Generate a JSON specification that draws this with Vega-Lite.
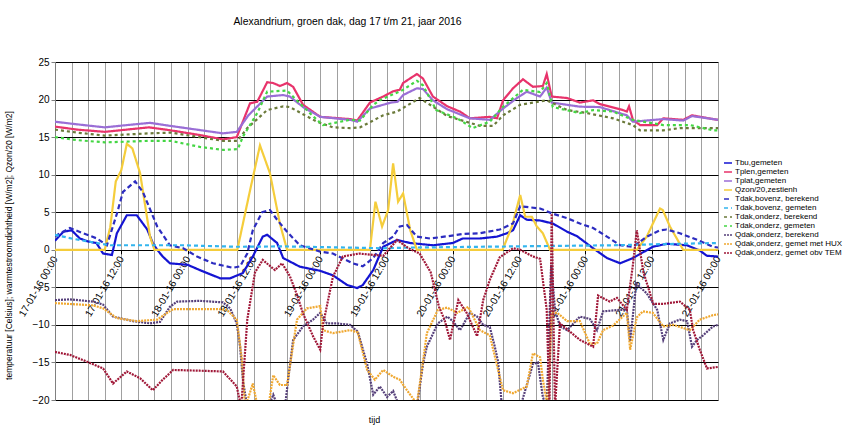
{
"$schema": "https://vega.github.io/schema/vega-lite/v6.json",
"width": 663, "height": 338,
"autosize": {"type": "none"},
"padding": {"left": 55, "top": 62, "right": 136, "bottom": 39},
"config": {"font": "Liberation Sans", "view": {"stroke": null}},
"title": {"text": "Alexandrium, groen dak, dag 17 t/m 21, jaar 2016", "fontSize": 10.4, "fontWeight": "normal", "color": "black", "anchor": "middle", "frame": "group", "baseline": "middle", "offset": 25, "dx": -39},
"data": {"values": [
{"s":"Tbu,gemeten","h":0,"v":1.2},{"s":"Tbu,gemeten","h":1.5,"v":2.4},{"s":"Tbu,gemeten","h":3,"v":2.6},{"s":"Tbu,gemeten","h":4.5,"v":1.5},{"s":"Tbu,gemeten","h":6,"v":1.1},{"s":"Tbu,gemeten","h":7.5,"v":0.9},{"s":"Tbu,gemeten","h":8.7,"v":-0.5},{"s":"Tbu,gemeten","h":10.3,"v":-0.7},{"s":"Tbu,gemeten","h":11.2,"v":2.2},{"s":"Tbu,gemeten","h":13,"v":4.6},{"s":"Tbu,gemeten","h":14.8,"v":4.6},{"s":"Tbu,gemeten","h":16.7,"v":2.7},{"s":"Tbu,gemeten","h":17.7,"v":0.9},{"s":"Tbu,gemeten","h":18.5,"v":0},{"s":"Tbu,gemeten","h":19.5,"v":-0.9},{"s":"Tbu,gemeten","h":20.8,"v":-1.8},{"s":"Tbu,gemeten","h":24,"v":-2.0},{"s":"Tbu,gemeten","h":26.2,"v":-2.7},{"s":"Tbu,gemeten","h":29.9,"v":-3.8},{"s":"Tbu,gemeten","h":31.7,"v":-3.8},{"s":"Tbu,gemeten","h":34,"v":-3.1},{"s":"Tbu,gemeten","h":35.8,"v":-0.9},{"s":"Tbu,gemeten","h":37.6,"v":1.75},{"s":"Tbu,gemeten","h":38.4,"v":2.0},{"s":"Tbu,gemeten","h":40.2,"v":0.9},{"s":"Tbu,gemeten","h":41.3,"v":-1.1},{"s":"Tbu,gemeten","h":44.3,"v":-2.25},{"s":"Tbu,gemeten","h":48,"v":-2.8},{"s":"Tbu,gemeten","h":50.3,"v":-3.4},{"s":"Tbu,gemeten","h":52.9,"v":-4.7},{"s":"Tbu,gemeten","h":54.7,"v":-5.1},{"s":"Tbu,gemeten","h":55.7,"v":-4.7},{"s":"Tbu,gemeten","h":57.6,"v":-2.7},{"s":"Tbu,gemeten","h":59.4,"v":0.4},{"s":"Tbu,gemeten","h":61.9,"v":1.3},{"s":"Tbu,gemeten","h":64.3,"v":0.9},{"s":"Tbu,gemeten","h":68.4,"v":0.6},{"s":"Tbu,gemeten","h":72,"v":0.9},{"s":"Tbu,gemeten","h":73.8,"v":1.5},{"s":"Tbu,gemeten","h":76.9,"v":1.5},{"s":"Tbu,gemeten","h":80,"v":1.75},{"s":"Tbu,gemeten","h":81.8,"v":2.2},{"s":"Tbu,gemeten","h":82.9,"v":2.6},{"s":"Tbu,gemeten","h":84.2,"v":4.6},{"s":"Tbu,gemeten","h":85.4,"v":4.0},{"s":"Tbu,gemeten","h":87.8,"v":3.9},{"s":"Tbu,gemeten","h":90.1,"v":3.5},{"s":"Tbu,gemeten","h":92.7,"v":2.4},{"s":"Tbu,gemeten","h":94.5,"v":1.8},{"s":"Tbu,gemeten","h":97.4,"v":0.2},{"s":"Tbu,gemeten","h":99.9,"v":-1.1},{"s":"Tbu,gemeten","h":102.3,"v":-1.8},{"s":"Tbu,gemeten","h":104.6,"v":-1.1},{"s":"Tbu,gemeten","h":108.2,"v":0.4},{"s":"Tbu,gemeten","h":110.7,"v":0.8},{"s":"Tbu,gemeten","h":114.4,"v":0.6},{"s":"Tbu,gemeten","h":116.7,"v":-0.1},{"s":"Tbu,gemeten","h":118,"v":-0.8},{"s":"Tbu,gemeten","h":120,"v":-0.9},

{"s":"Tplen,gemeten","h":0,"v":16.4},{"s":"Tplen,gemeten","h":4,"v":16.0},{"s":"Tplen,gemeten","h":9,"v":15.7},{"s":"Tplen,gemeten","h":13,"v":16.0},{"s":"Tplen,gemeten","h":17,"v":16.3},{"s":"Tplen,gemeten","h":21,"v":15.9},{"s":"Tplen,gemeten","h":26,"v":15.3},{"s":"Tplen,gemeten","h":30.4,"v":14.7},{"s":"Tplen,gemeten","h":32.9,"v":15.0},{"s":"Tplen,gemeten","h":35.3,"v":19.5},{"s":"Tplen,gemeten","h":36.6,"v":19.7},{"s":"Tplen,gemeten","h":38.4,"v":22.3},{"s":"Tplen,gemeten","h":39.5,"v":22.2},{"s":"Tplen,gemeten","h":40.7,"v":21.8},{"s":"Tplen,gemeten","h":42,"v":22.2},{"s":"Tplen,gemeten","h":43.1,"v":21.7},{"s":"Tplen,gemeten","h":44.9,"v":19.3},{"s":"Tplen,gemeten","h":48,"v":17.7},{"s":"Tplen,gemeten","h":53.4,"v":17.4},{"s":"Tplen,gemeten","h":54.7,"v":17.2},{"s":"Tplen,gemeten","h":57,"v":19.6},{"s":"Tplen,gemeten","h":59.4,"v":20.4},{"s":"Tplen,gemeten","h":61.2,"v":21.1},{"s":"Tplen,gemeten","h":62.4,"v":21.3},{"s":"Tplen,gemeten","h":63,"v":22.2},{"s":"Tplen,gemeten","h":65.5,"v":23.4},{"s":"Tplen,gemeten","h":66.6,"v":22.8},{"s":"Tplen,gemeten","h":68.4,"v":20.4},{"s":"Tplen,gemeten","h":71,"v":19.1},{"s":"Tplen,gemeten","h":73.3,"v":18.4},{"s":"Tplen,gemeten","h":75.1,"v":17.5},{"s":"Tplen,gemeten","h":78.7,"v":17.7},{"s":"Tplen,gemeten","h":80,"v":17.5},{"s":"Tplen,gemeten","h":81.1,"v":19.9},{"s":"Tplen,gemeten","h":82.9,"v":21.5},{"s":"Tplen,gemeten","h":84.7,"v":22.7},{"s":"Tplen,gemeten","h":86.5,"v":21.7},{"s":"Tplen,gemeten","h":88.3,"v":21.8},{"s":"Tplen,gemeten","h":89,"v":23.4},{"s":"Tplen,gemeten","h":89.9,"v":20.4},{"s":"Tplen,gemeten","h":92.7,"v":20.2},{"s":"Tplen,gemeten","h":95,"v":19.6},{"s":"Tplen,gemeten","h":97.4,"v":19.9},{"s":"Tplen,gemeten","h":98.6,"v":19.4},{"s":"Tplen,gemeten","h":102.8,"v":18.6},{"s":"Tplen,gemeten","h":103.5,"v":18.4},{"s":"Tplen,gemeten","h":103.9,"v":19.1},{"s":"Tplen,gemeten","h":104.6,"v":17.3},{"s":"Tplen,gemeten","h":105.9,"v":16.6},{"s":"Tplen,gemeten","h":109,"v":16.6},{"s":"Tplen,gemeten","h":110.1,"v":17.5},{"s":"Tplen,gemeten","h":113.7,"v":17.3},{"s":"Tplen,gemeten","h":115.3,"v":17.9},{"s":"Tplen,gemeten","h":119.1,"v":17.4},{"s":"Tplen,gemeten","h":120,"v":17.3},

{"s":"Tplat,gemeten","h":0,"v":17.05},{"s":"Tplat,gemeten","h":4,"v":16.7},{"s":"Tplat,gemeten","h":9,"v":16.3},{"s":"Tplat,gemeten","h":13,"v":16.6},{"s":"Tplat,gemeten","h":17.2,"v":16.9},{"s":"Tplat,gemeten","h":20.8,"v":16.5},{"s":"Tplat,gemeten","h":30.4,"v":15.5},{"s":"Tplat,gemeten","h":32.9,"v":15.7},{"s":"Tplat,gemeten","h":35,"v":17.9},{"s":"Tplat,gemeten","h":38.4,"v":20.4},{"s":"Tplat,gemeten","h":41.3,"v":20.6},{"s":"Tplat,gemeten","h":42.5,"v":20.4},{"s":"Tplat,gemeten","h":44.9,"v":19.0},{"s":"Tplat,gemeten","h":48,"v":17.7},{"s":"Tplat,gemeten","h":53.4,"v":17.3},{"s":"Tplat,gemeten","h":54.7,"v":17.05},{"s":"Tplat,gemeten","h":57,"v":18.8},{"s":"Tplat,gemeten","h":60.8,"v":19.6},{"s":"Tplat,gemeten","h":62,"v":19.7},{"s":"Tplat,gemeten","h":63,"v":20.6},{"s":"Tplat,gemeten","h":65.5,"v":21.5},{"s":"Tplat,gemeten","h":66.6,"v":21.4},{"s":"Tplat,gemeten","h":68.4,"v":19.9},{"s":"Tplat,gemeten","h":71,"v":18.7},{"s":"Tplat,gemeten","h":75.1,"v":17.5},{"s":"Tplat,gemeten","h":78.7,"v":17.3},{"s":"Tplat,gemeten","h":81.1,"v":18.8},{"s":"Tplat,gemeten","h":83.6,"v":20.2},{"s":"Tplat,gemeten","h":85.4,"v":21.05},{"s":"Tplat,gemeten","h":87.8,"v":20.4},{"s":"Tplat,gemeten","h":89,"v":21.6},{"s":"Tplat,gemeten","h":89.9,"v":19.6},{"s":"Tplat,gemeten","h":95,"v":19.05},{"s":"Tplat,gemeten","h":98.6,"v":19.0},{"s":"Tplat,gemeten","h":103.5,"v":17.9},{"s":"Tplat,gemeten","h":104.6,"v":17.05},{"s":"Tplat,gemeten","h":110.1,"v":17.4},{"s":"Tplat,gemeten","h":113.7,"v":17.2},{"s":"Tplat,gemeten","h":115.3,"v":17.8},{"s":"Tplat,gemeten","h":119.1,"v":17.4},{"s":"Tplat,gemeten","h":120,"v":17.3},

{"s":"Qzon/20,zestienh","h":0,"v":0},{"s":"Qzon/20,zestienh","h":9,"v":0},{"s":"Qzon/20,zestienh","h":10,"v":3},{"s":"Qzon/20,zestienh","h":11,"v":9.1},{"s":"Qzon/20,zestienh","h":12,"v":10.6},{"s":"Qzon/20,zestienh","h":13,"v":14.1},{"s":"Qzon/20,zestienh","h":14,"v":13.5},{"s":"Qzon/20,zestienh","h":15.4,"v":10.2},{"s":"Qzon/20,zestienh","h":17.2,"v":1.75},{"s":"Qzon/20,zestienh","h":18,"v":0},{"s":"Qzon/20,zestienh","h":33,"v":0},{"s":"Qzon/20,zestienh","h":35.3,"v":7.9},{"s":"Qzon/20,zestienh","h":37.1,"v":13.9},{"s":"Qzon/20,zestienh","h":38.9,"v":10.2},{"s":"Qzon/20,zestienh","h":40.7,"v":3.5},{"s":"Qzon/20,zestienh","h":42,"v":0},{"s":"Qzon/20,zestienh","h":57,"v":0},{"s":"Qzon/20,zestienh","h":58,"v":6.4},{"s":"Qzon/20,zestienh","h":59.2,"v":3.1},{"s":"Qzon/20,zestienh","h":60.3,"v":5.3},{"s":"Qzon/20,zestienh","h":61.2,"v":11.5},{"s":"Qzon/20,zestienh","h":62.1,"v":6.4},{"s":"Qzon/20,zestienh","h":63,"v":7.5},{"s":"Qzon/20,zestienh","h":64.3,"v":2.6},{"s":"Qzon/20,zestienh","h":65.5,"v":0},{"s":"Qzon/20,zestienh","h":81,"v":0},{"s":"Qzon/20,zestienh","h":82.7,"v":3.1},{"s":"Qzon/20,zestienh","h":84.2,"v":7.3},{"s":"Qzon/20,zestienh","h":85.1,"v":4.4},{"s":"Qzon/20,zestienh","h":86.3,"v":4.4},{"s":"Qzon/20,zestienh","h":87.2,"v":3.1},{"s":"Qzon/20,zestienh","h":88.3,"v":2.2},{"s":"Qzon/20,zestienh","h":89.6,"v":0},{"s":"Qzon/20,zestienh","h":105.3,"v":0},{"s":"Qzon/20,zestienh","h":107.1,"v":1.75},{"s":"Qzon/20,zestienh","h":109.5,"v":5.5},{"s":"Qzon/20,zestienh","h":110,"v":5.3},{"s":"Qzon/20,zestienh","h":111.3,"v":3.1},{"s":"Qzon/20,zestienh","h":113.7,"v":0},{"s":"Qzon/20,zestienh","h":120,"v":0},

{"s":"Tdak,bovenz, berekend","h":0,"v":1.8},{"s":"Tdak,bovenz, berekend","h":2.7,"v":2.9},{"s":"Tdak,bovenz, berekend","h":5.1,"v":2.2},{"s":"Tdak,bovenz, berekend","h":7.6,"v":1.5},{"s":"Tdak,bovenz, berekend","h":9.4,"v":0.6},{"s":"Tdak,bovenz, berekend","h":11.2,"v":4.8},{"s":"Tdak,bovenz, berekend","h":12.3,"v":7.7},{"s":"Tdak,bovenz, berekend","h":14.5,"v":9.1},{"s":"Tdak,bovenz, berekend","h":15.9,"v":7.7},{"s":"Tdak,bovenz, berekend","h":18.5,"v":3.1},{"s":"Tdak,bovenz, berekend","h":20.8,"v":0.6},{"s":"Tdak,bovenz, berekend","h":23.2,"v":0.2},{"s":"Tdak,bovenz, berekend","h":25.7,"v":-0.9},{"s":"Tdak,bovenz, berekend","h":28.6,"v":-1.8},{"s":"Tdak,bovenz, berekend","h":32.2,"v":-2.4},{"s":"Tdak,bovenz, berekend","h":33.5,"v":-2.2},{"s":"Tdak,bovenz, berekend","h":34.8,"v":-0.5},{"s":"Tdak,bovenz, berekend","h":35.8,"v":2.6},{"s":"Tdak,bovenz, berekend","h":37.5,"v":5.0},{"s":"Tdak,bovenz, berekend","h":38.9,"v":5.3},{"s":"Tdak,bovenz, berekend","h":40.2,"v":4.0},{"s":"Tdak,bovenz, berekend","h":42,"v":2.4},{"s":"Tdak,bovenz, berekend","h":44.3,"v":0.6},{"s":"Tdak,bovenz, berekend","h":48,"v":-0.25},{"s":"Tdak,bovenz, berekend","h":50.3,"v":-0.5},{"s":"Tdak,bovenz, berekend","h":53.9,"v":-1.8},{"s":"Tdak,bovenz, berekend","h":55.7,"v":-2.2},{"s":"Tdak,bovenz, berekend","h":57.6,"v":-1.1},{"s":"Tdak,bovenz, berekend","h":59.4,"v":0.9},{"s":"Tdak,bovenz, berekend","h":61.2,"v":1.75},{"s":"Tdak,bovenz, berekend","h":62.4,"v":3.1},{"s":"Tdak,bovenz, berekend","h":63.7,"v":3.3},{"s":"Tdak,bovenz, berekend","h":65.5,"v":1.75},{"s":"Tdak,bovenz, berekend","h":67.9,"v":1.5},{"s":"Tdak,bovenz, berekend","h":71,"v":1.8},{"s":"Tdak,bovenz, berekend","h":73.8,"v":2.1},{"s":"Tdak,bovenz, berekend","h":76.9,"v":2.2},{"s":"Tdak,bovenz, berekend","h":80.5,"v":2.7},{"s":"Tdak,bovenz, berekend","h":82.9,"v":3.5},{"s":"Tdak,bovenz, berekend","h":84.2,"v":5.8},{"s":"Tdak,bovenz, berekend","h":87.8,"v":5.5},{"s":"Tdak,bovenz, berekend","h":90.1,"v":4.8},{"s":"Tdak,bovenz, berekend","h":92.7,"v":4.2},{"s":"Tdak,bovenz, berekend","h":95,"v":3.5},{"s":"Tdak,bovenz, berekend","h":97.4,"v":2.9},{"s":"Tdak,bovenz, berekend","h":99.9,"v":1.75},{"s":"Tdak,bovenz, berekend","h":102.3,"v":0.6},{"s":"Tdak,bovenz, berekend","h":104.6,"v":0.4},{"s":"Tdak,bovenz, berekend","h":107.1,"v":1.75},{"s":"Tdak,bovenz, berekend","h":109.5,"v":2.6},{"s":"Tdak,bovenz, berekend","h":110.7,"v":2.7},{"s":"Tdak,bovenz, berekend","h":113.1,"v":2.2},{"s":"Tdak,bovenz, berekend","h":116.3,"v":1.3},{"s":"Tdak,bovenz, berekend","h":119.1,"v":0.4},{"s":"Tdak,bovenz, berekend","h":120,"v":0.3},

{"s":"Tdak,bovenz, gemeten","h":0,"v":2.0},{"s":"Tdak,bovenz, gemeten","h":3,"v":1.5},{"s":"Tdak,bovenz, gemeten","h":6,"v":1.1},{"s":"Tdak,bovenz, gemeten","h":10,"v":0.6},{"s":"Tdak,bovenz, gemeten","h":14,"v":0.6},{"s":"Tdak,bovenz, gemeten","h":23,"v":0.6},{"s":"Tdak,bovenz, gemeten","h":33,"v":0.4},{"s":"Tdak,bovenz, gemeten","h":41,"v":0.45},{"s":"Tdak,bovenz, gemeten","h":53,"v":0.3},{"s":"Tdak,bovenz, gemeten","h":59,"v":0.2},{"s":"Tdak,bovenz, gemeten","h":65,"v":0.3},{"s":"Tdak,bovenz, gemeten","h":77,"v":0.4},{"s":"Tdak,bovenz, gemeten","h":89,"v":0.5},{"s":"Tdak,bovenz, gemeten","h":101,"v":0.6},{"s":"Tdak,bovenz, gemeten","h":113,"v":0.8},{"s":"Tdak,bovenz, gemeten","h":120,"v":0.9},

{"s":"Tdak,onderz, berekend","h":0,"v":16.0},{"s":"Tdak,onderz, berekend","h":4,"v":15.6},{"s":"Tdak,onderz, berekend","h":9,"v":15.2},{"s":"Tdak,onderz, berekend","h":17,"v":15.5},{"s":"Tdak,onderz, berekend","h":21,"v":15.6},{"s":"Tdak,onderz, berekend","h":30.4,"v":14.5},{"s":"Tdak,onderz, berekend","h":33,"v":14.5},{"s":"Tdak,onderz, berekend","h":34.8,"v":16.2},{"s":"Tdak,onderz, berekend","h":38.4,"v":18.6},{"s":"Tdak,onderz, berekend","h":41.3,"v":19.1},{"s":"Tdak,onderz, berekend","h":42.5,"v":19.0},{"s":"Tdak,onderz, berekend","h":47.4,"v":17.05},{"s":"Tdak,onderz, berekend","h":50.3,"v":16.3},{"s":"Tdak,onderz, berekend","h":53.4,"v":16.2},{"s":"Tdak,onderz, berekend","h":55.2,"v":16.3},{"s":"Tdak,onderz, berekend","h":59.4,"v":17.9},{"s":"Tdak,onderz, berekend","h":61.9,"v":18.4},{"s":"Tdak,onderz, berekend","h":66,"v":20.2},{"s":"Tdak,onderz, berekend","h":68.4,"v":19.05},{"s":"Tdak,onderz, berekend","h":71,"v":17.8},{"s":"Tdak,onderz, berekend","h":73.3,"v":17.3},{"s":"Tdak,onderz, berekend","h":76.9,"v":16.5},{"s":"Tdak,onderz, berekend","h":79.3,"v":16.5},{"s":"Tdak,onderz, berekend","h":81.1,"v":17.9},{"s":"Tdak,onderz, berekend","h":84.2,"v":19.3},{"s":"Tdak,onderz, berekend","h":89,"v":19.9},{"s":"Tdak,onderz, berekend","h":92.7,"v":18.6},{"s":"Tdak,onderz, berekend","h":96.3,"v":18.2},{"s":"Tdak,onderz, berekend","h":101,"v":17.5},{"s":"Tdak,onderz, berekend","h":104.6,"v":16.6},{"s":"Tdak,onderz, berekend","h":105.9,"v":15.9},{"s":"Tdak,onderz, berekend","h":110.1,"v":15.9},{"s":"Tdak,onderz, berekend","h":113.1,"v":16.2},{"s":"Tdak,onderz, berekend","h":120,"v":16.2},

{"s":"Tdak,onderz, gemeten","h":0,"v":15.0},{"s":"Tdak,onderz, gemeten","h":4,"v":14.6},{"s":"Tdak,onderz, gemeten","h":9,"v":14.3},{"s":"Tdak,onderz, gemeten","h":17,"v":14.5},{"s":"Tdak,onderz, gemeten","h":21,"v":14.5},{"s":"Tdak,onderz, gemeten","h":26.2,"v":13.7},{"s":"Tdak,onderz, gemeten","h":30.4,"v":13.3},{"s":"Tdak,onderz, gemeten","h":33.1,"v":13.4},{"s":"Tdak,onderz, gemeten","h":34,"v":15.05},{"s":"Tdak,onderz, gemeten","h":36.6,"v":18.2},{"s":"Tdak,onderz, gemeten","h":38.4,"v":21.05},{"s":"Tdak,onderz, gemeten","h":42,"v":21.2},{"s":"Tdak,onderz, gemeten","h":44.3,"v":19.5},{"s":"Tdak,onderz, gemeten","h":47.4,"v":17.3},{"s":"Tdak,onderz, gemeten","h":48.5,"v":16.6},{"s":"Tdak,onderz, gemeten","h":53.4,"v":17.3},{"s":"Tdak,onderz, gemeten","h":55.2,"v":17.2},{"s":"Tdak,onderz, gemeten","h":57.6,"v":19.3},{"s":"Tdak,onderz, gemeten","h":58.8,"v":19.9},{"s":"Tdak,onderz, gemeten","h":63,"v":21.3},{"s":"Tdak,onderz, gemeten","h":65.5,"v":22.5},{"s":"Tdak,onderz, gemeten","h":66.6,"v":21.9},{"s":"Tdak,onderz, gemeten","h":69,"v":18.6},{"s":"Tdak,onderz, gemeten","h":72.8,"v":17.5},{"s":"Tdak,onderz, gemeten","h":75.6,"v":16.2},{"s":"Tdak,onderz, gemeten","h":78.7,"v":17.05},{"s":"Tdak,onderz, gemeten","h":81.1,"v":19.05},{"s":"Tdak,onderz, gemeten","h":84.7,"v":21.3},{"s":"Tdak,onderz, gemeten","h":87.8,"v":21.0},{"s":"Tdak,onderz, gemeten","h":89,"v":22.2},{"s":"Tdak,onderz, gemeten","h":90.1,"v":19.0},{"s":"Tdak,onderz, gemeten","h":95,"v":18.2},{"s":"Tdak,onderz, gemeten","h":97.4,"v":18.6},{"s":"Tdak,onderz, gemeten","h":101,"v":18.4},{"s":"Tdak,onderz, gemeten","h":104.6,"v":17.3},{"s":"Tdak,onderz, gemeten","h":110.1,"v":16.6},{"s":"Tdak,onderz, gemeten","h":115,"v":16.6},{"s":"Tdak,onderz, gemeten","h":119.1,"v":15.9},{"s":"Tdak,onderz, gemeten","h":120,"v":15.9},

{"s":"Qdak,onderz, berekend","h":0,"v":-6.7},{"s":"Qdak,onderz, berekend","h":2.7,"v":-6.6},{"s":"Qdak,onderz, berekend","h":6.9,"v":-6.9},{"s":"Qdak,onderz, berekend","h":8.7,"v":-7.3},{"s":"Qdak,onderz, berekend","h":10.5,"v":-8.9},{"s":"Qdak,onderz, berekend","h":14.1,"v":-9.5},{"s":"Qdak,onderz, berekend","h":17.2,"v":-9.8},{"s":"Qdak,onderz, berekend","h":19,"v":-9.6},{"s":"Qdak,onderz, berekend","h":20.8,"v":-7.6},{"s":"Qdak,onderz, berekend","h":22.1,"v":-6.9},{"s":"Qdak,onderz, berekend","h":26.2,"v":-6.8},{"s":"Qdak,onderz, berekend","h":30.4,"v":-7.0},{"s":"Qdak,onderz, berekend","h":31.7,"v":-7.8},{"s":"Qdak,onderz, berekend","h":32.9,"v":-9.8},{"s":"Qdak,onderz, berekend","h":33.5,"v":-12.9},{"s":"Qdak,onderz, berekend","h":34,"v":-17.3},{"s":"Qdak,onderz, berekend","h":34.8,"v":-21},{"s":"Qdak,onderz, berekend","h":38.6,"v":-21},{"s":"Qdak,onderz, berekend","h":39.5,"v":-19.3},{"s":"Qdak,onderz, berekend","h":40.4,"v":-21},{"s":"Qdak,onderz, berekend","h":41.6,"v":-21},{"s":"Qdak,onderz, berekend","h":42.2,"v":-17.3},{"s":"Qdak,onderz, berekend","h":43.1,"v":-12.0},{"s":"Qdak,onderz, berekend","h":44.9,"v":-10.2},{"s":"Qdak,onderz, berekend","h":46.7,"v":-9.3},{"s":"Qdak,onderz, berekend","h":48,"v":-8.4},{"s":"Qdak,onderz, berekend","h":49.2,"v":-9.8},{"s":"Qdak,onderz, berekend","h":51,"v":-9.8},{"s":"Qdak,onderz, berekend","h":53.4,"v":-10.0},{"s":"Qdak,onderz, berekend","h":54.8,"v":-10.9},{"s":"Qdak,onderz, berekend","h":56.5,"v":-15.2},{"s":"Qdak,onderz, berekend","h":57.6,"v":-19.3},{"s":"Qdak,onderz, berekend","h":58.8,"v":-18.2},{"s":"Qdak,onderz, berekend","h":60.1,"v":-19.6},{"s":"Qdak,onderz, berekend","h":61.2,"v":-18.8},{"s":"Qdak,onderz, berekend","h":62.4,"v":-21},{"s":"Qdak,onderz, berekend","h":65.5,"v":-21},{"s":"Qdak,onderz, berekend","h":66.6,"v":-15.2},{"s":"Qdak,onderz, berekend","h":67.3,"v":-12.9},{"s":"Qdak,onderz, berekend","h":69.3,"v":-9.8},{"s":"Qdak,onderz, berekend","h":71,"v":-8.9},{"s":"Qdak,onderz, berekend","h":72,"v":-9.5},{"s":"Qdak,onderz, berekend","h":73.3,"v":-10.7},{"s":"Qdak,onderz, berekend","h":75.1,"v":-8.4},{"s":"Qdak,onderz, berekend","h":76.4,"v":-8.9},{"s":"Qdak,onderz, berekend","h":77.5,"v":-10.0},{"s":"Qdak,onderz, berekend","h":78.7,"v":-10.3},{"s":"Qdak,onderz, berekend","h":79.6,"v":-12.9},{"s":"Qdak,onderz, berekend","h":80.2,"v":-14.9},{"s":"Qdak,onderz, berekend","h":80.9,"v":-21},{"s":"Qdak,onderz, berekend","h":84.2,"v":-21},{"s":"Qdak,onderz, berekend","h":86.5,"v":-15.2},{"s":"Qdak,onderz, berekend","h":87.4,"v":-15.0},{"s":"Qdak,onderz, berekend","h":88.3,"v":-19.6},{"s":"Qdak,onderz, berekend","h":89,"v":-21},{"s":"Qdak,onderz, berekend","h":89.8,"v":-2},{"s":"Qdak,onderz, berekend","h":90.5,"v":-8},{"s":"Qdak,onderz, berekend","h":91.4,"v":-10.2},{"s":"Qdak,onderz, berekend","h":92.7,"v":-10.7},{"s":"Qdak,onderz, berekend","h":95,"v":-8.9},{"s":"Qdak,onderz, berekend","h":96.8,"v":-9.2},{"s":"Qdak,onderz, berekend","h":98.1,"v":-10.7},{"s":"Qdak,onderz, berekend","h":99.2,"v":-8.2},{"s":"Qdak,onderz, berekend","h":102.3,"v":-8.0},{"s":"Qdak,onderz, berekend","h":103.5,"v":-8.0},{"s":"Qdak,onderz, berekend","h":104.1,"v":-12.2},{"s":"Qdak,onderz, berekend","h":105.2,"v":-4.5},{"s":"Qdak,onderz, berekend","h":107.1,"v":-5.8},{"s":"Qdak,onderz, berekend","h":109,"v":-8.0},{"s":"Qdak,onderz, berekend","h":110.1,"v":-12.0},{"s":"Qdak,onderz, berekend","h":111.3,"v":-9.8},{"s":"Qdak,onderz, berekend","h":113.1,"v":-9.3},{"s":"Qdak,onderz, berekend","h":114.4,"v":-9.5},{"s":"Qdak,onderz, berekend","h":115.3,"v":-12.9},{"s":"Qdak,onderz, berekend","h":116.2,"v":-12.0},{"s":"Qdak,onderz, berekend","h":117.3,"v":-11.4},{"s":"Qdak,onderz, berekend","h":119.1,"v":-10.2},{"s":"Qdak,onderz, berekend","h":120,"v":-10.0},

{"s":"Qdak,onderz, gemet met HUX","h":0,"v":-7.1},{"s":"Qdak,onderz, gemet met HUX","h":6.9,"v":-7.4},{"s":"Qdak,onderz, gemet met HUX","h":8.7,"v":-7.8},{"s":"Qdak,onderz, gemet met HUX","h":11.2,"v":-9.1},{"s":"Qdak,onderz, gemet met HUX","h":14.8,"v":-9.5},{"s":"Qdak,onderz, gemet met HUX","h":18.5,"v":-9.3},{"s":"Qdak,onderz, gemet met HUX","h":20.3,"v":-8.4},{"s":"Qdak,onderz, gemet met HUX","h":21.4,"v":-7.9},{"s":"Qdak,onderz, gemet met HUX","h":29.3,"v":-7.9},{"s":"Qdak,onderz, gemet met HUX","h":31.1,"v":-8.0},{"s":"Qdak,onderz, gemet met HUX","h":32.9,"v":-9.3},{"s":"Qdak,onderz, gemet met HUX","h":33.8,"v":-14.4},{"s":"Qdak,onderz, gemet met HUX","h":34.4,"v":-21},{"s":"Qdak,onderz, gemet met HUX","h":35.3,"v":-19},{"s":"Qdak,onderz, gemet met HUX","h":35.8,"v":-17.8},{"s":"Qdak,onderz, gemet met HUX","h":36.7,"v":-21},{"s":"Qdak,onderz, gemet met HUX","h":38.6,"v":-21},{"s":"Qdak,onderz, gemet met HUX","h":39.5,"v":-16.7},{"s":"Qdak,onderz, gemet met HUX","h":40.7,"v":-18.0},{"s":"Qdak,onderz, gemet met HUX","h":42,"v":-18.0},{"s":"Qdak,onderz, gemet met HUX","h":43.8,"v":-9.3},{"s":"Qdak,onderz, gemet met HUX","h":45.6,"v":-7.8},{"s":"Qdak,onderz, gemet met HUX","h":48,"v":-7.5},{"s":"Qdak,onderz, gemet met HUX","h":48.5,"v":-10.7},{"s":"Qdak,onderz, gemet met HUX","h":50.3,"v":-11.1},{"s":"Qdak,onderz, gemet met HUX","h":53.4,"v":-10.7},{"s":"Qdak,onderz, gemet met HUX","h":54.8,"v":-11.0},{"s":"Qdak,onderz, gemet met HUX","h":56.5,"v":-16.0},{"s":"Qdak,onderz, gemet met HUX","h":57.9,"v":-17.3},{"s":"Qdak,onderz, gemet met HUX","h":59.4,"v":-16.0},{"s":"Qdak,onderz, gemet met HUX","h":61.2,"v":-16.9},{"s":"Qdak,onderz, gemet met HUX","h":62.4,"v":-17.3},{"s":"Qdak,onderz, gemet met HUX","h":63.7,"v":-18.7},{"s":"Qdak,onderz, gemet met HUX","h":65.5,"v":-20.5},{"s":"Qdak,onderz, gemet met HUX","h":66.4,"v":-16.0},{"s":"Qdak,onderz, gemet met HUX","h":67.3,"v":-11.1},{"s":"Qdak,onderz, gemet met HUX","h":69.3,"v":-8.0},{"s":"Qdak,onderz, gemet met HUX","h":71,"v":-7.7},{"s":"Qdak,onderz, gemet met HUX","h":72.8,"v":-8.4},{"s":"Qdak,onderz, gemet met HUX","h":74.8,"v":-7.6},{"s":"Qdak,onderz, gemet met HUX","h":76.9,"v":-10.7},{"s":"Qdak,onderz, gemet met HUX","h":78.7,"v":-11.4},{"s":"Qdak,onderz, gemet met HUX","h":80.2,"v":-16.0},{"s":"Qdak,onderz, gemet met HUX","h":81.1,"v":-18.7},{"s":"Qdak,onderz, gemet met HUX","h":82.9,"v":-19.1},{"s":"Qdak,onderz, gemet met HUX","h":85.4,"v":-18.2},{"s":"Qdak,onderz, gemet met HUX","h":86.5,"v":-13.8},{"s":"Qdak,onderz, gemet met HUX","h":87.8,"v":-14.3},{"s":"Qdak,onderz, gemet met HUX","h":88.3,"v":-17.3},{"s":"Qdak,onderz, gemet met HUX","h":89.2,"v":-21},{"s":"Qdak,onderz, gemet met HUX","h":89.9,"v":-8.4},{"s":"Qdak,onderz, gemet met HUX","h":90.9,"v":-8.4},{"s":"Qdak,onderz, gemet met HUX","h":92.7,"v":-9.5},{"s":"Qdak,onderz, gemet met HUX","h":95,"v":-9.5},{"s":"Qdak,onderz, gemet met HUX","h":96.8,"v":-12.5},{"s":"Qdak,onderz, gemet met HUX","h":98.1,"v":-12.5},{"s":"Qdak,onderz, gemet met HUX","h":99.2,"v":-10.7},{"s":"Qdak,onderz, gemet met HUX","h":101,"v":-10.1},{"s":"Qdak,onderz, gemet met HUX","h":103.5,"v":-8.4},{"s":"Qdak,onderz, gemet met HUX","h":104.1,"v":-13.3},{"s":"Qdak,onderz, gemet met HUX","h":105.3,"v":-9},{"s":"Qdak,onderz, gemet met HUX","h":106.4,"v":-8.2},{"s":"Qdak,onderz, gemet met HUX","h":108.2,"v":-8.4},{"s":"Qdak,onderz, gemet met HUX","h":110.1,"v":-10.2},{"s":"Qdak,onderz, gemet met HUX","h":111.9,"v":-10.0},{"s":"Qdak,onderz, gemet met HUX","h":114.9,"v":-10.7},{"s":"Qdak,onderz, gemet met HUX","h":116.7,"v":-9.3},{"s":"Qdak,onderz, gemet met HUX","h":119.1,"v":-8.7},{"s":"Qdak,onderz, gemet met HUX","h":120,"v":-8.6},

{"s":"Qdak,onderz, gemet obv TEM","h":0,"v":-13.6},{"s":"Qdak,onderz, gemet obv TEM","h":2.7,"v":-14.0},{"s":"Qdak,onderz, gemet obv TEM","h":5.8,"v":-14.9},{"s":"Qdak,onderz, gemet obv TEM","h":8.7,"v":-15.8},{"s":"Qdak,onderz, gemet obv TEM","h":10.5,"v":-17.8},{"s":"Qdak,onderz, gemet obv TEM","h":13,"v":-16.2},{"s":"Qdak,onderz, gemet obv TEM","h":15.4,"v":-17.1},{"s":"Qdak,onderz, gemet obv TEM","h":17.7,"v":-18.7},{"s":"Qdak,onderz, gemet obv TEM","h":19.5,"v":-17.3},{"s":"Qdak,onderz, gemet obv TEM","h":21.4,"v":-16.0},{"s":"Qdak,onderz, gemet obv TEM","h":26.2,"v":-16.1},{"s":"Qdak,onderz, gemet obv TEM","h":30.4,"v":-16.2},{"s":"Qdak,onderz, gemet obv TEM","h":32.9,"v":-18.2},{"s":"Qdak,onderz, gemet obv TEM","h":33.7,"v":-21},{"s":"Qdak,onderz, gemet obv TEM","h":34.8,"v":-9.3},{"s":"Qdak,onderz, gemet obv TEM","h":36.2,"v":-3},{"s":"Qdak,onderz, gemet obv TEM","h":37.6,"v":-1.35},{"s":"Qdak,onderz, gemet obv TEM","h":39.8,"v":-2.7},{"s":"Qdak,onderz, gemet obv TEM","h":41.1,"v":-1.8},{"s":"Qdak,onderz, gemet obv TEM","h":42.5,"v":-3.5},{"s":"Qdak,onderz, gemet obv TEM","h":43.8,"v":-6},{"s":"Qdak,onderz, gemet obv TEM","h":44.9,"v":-8.5},{"s":"Qdak,onderz, gemet obv TEM","h":46.7,"v":-11.5},{"s":"Qdak,onderz, gemet obv TEM","h":48,"v":-13.3},{"s":"Qdak,onderz, gemet obv TEM","h":48.5,"v":-10},{"s":"Qdak,onderz, gemet obv TEM","h":50.3,"v":-3.6},{"s":"Qdak,onderz, gemet obv TEM","h":52.1,"v":-0.9},{"s":"Qdak,onderz, gemet obv TEM","h":55,"v":-0.5},{"s":"Qdak,onderz, gemet obv TEM","h":59.4,"v":-0.8},{"s":"Qdak,onderz, gemet obv TEM","h":61.9,"v":1.3},{"s":"Qdak,onderz, gemet obv TEM","h":64,"v":0.2},{"s":"Qdak,onderz, gemet obv TEM","h":66,"v":-0.5},{"s":"Qdak,onderz, gemet obv TEM","h":68,"v":-3},{"s":"Qdak,onderz, gemet obv TEM","h":69.5,"v":-7.6},{"s":"Qdak,onderz, gemet obv TEM","h":70.5,"v":-9.3},{"s":"Qdak,onderz, gemet obv TEM","h":71.5,"v":-12},{"s":"Qdak,onderz, gemet obv TEM","h":73,"v":-6.7},{"s":"Qdak,onderz, gemet obv TEM","h":74.5,"v":-8.4},{"s":"Qdak,onderz, gemet obv TEM","h":76.4,"v":-11.5},{"s":"Qdak,onderz, gemet obv TEM","h":77.5,"v":-6.7},{"s":"Qdak,onderz, gemet obv TEM","h":78.7,"v":-4},{"s":"Qdak,onderz, gemet obv TEM","h":80.5,"v":-1},{"s":"Qdak,onderz, gemet obv TEM","h":82.9,"v":0.2},{"s":"Qdak,onderz, gemet obv TEM","h":84.2,"v":0},{"s":"Qdak,onderz, gemet obv TEM","h":86.5,"v":-0.9},{"s":"Qdak,onderz, gemet obv TEM","h":87.8,"v":-1.2},{"s":"Qdak,onderz, gemet obv TEM","h":89,"v":-8},{"s":"Qdak,onderz, gemet obv TEM","h":89.5,"v":-21},{"s":"Qdak,onderz, gemet obv TEM","h":89.9,"v":4.8},{"s":"Qdak,onderz, gemet obv TEM","h":90.5,"v":-21},{"s":"Qdak,onderz, gemet obv TEM","h":91.4,"v":-9.8},{"s":"Qdak,onderz, gemet obv TEM","h":95,"v":-12.0},{"s":"Qdak,onderz, gemet obv TEM","h":97.4,"v":-12.9},{"s":"Qdak,onderz, gemet obv TEM","h":98.3,"v":-6.1},{"s":"Qdak,onderz, gemet obv TEM","h":100.4,"v":-6.9},{"s":"Qdak,onderz, gemet obv TEM","h":101.7,"v":-6.4},{"s":"Qdak,onderz, gemet obv TEM","h":103.5,"v":-8.0},{"s":"Qdak,onderz, gemet obv TEM","h":104.6,"v":-2},{"s":"Qdak,onderz, gemet obv TEM","h":105.3,"v":2.6},{"s":"Qdak,onderz, gemet obv TEM","h":106.5,"v":-3},{"s":"Qdak,onderz, gemet obv TEM","h":108.3,"v":-7.2},{"s":"Qdak,onderz, gemet obv TEM","h":110.1,"v":-7.2},{"s":"Qdak,onderz, gemet obv TEM","h":113.1,"v":-6.9},{"s":"Qdak,onderz, gemet obv TEM","h":114.9,"v":-8.0},{"s":"Qdak,onderz, gemet obv TEM","h":115.5,"v":-10.7},{"s":"Qdak,onderz, gemet obv TEM","h":116.7,"v":-13.3},{"s":"Qdak,onderz, gemet obv TEM","h":118,"v":-15.8},{"s":"Qdak,onderz, gemet obv TEM","h":120,"v":-15.6}
]},
"mark": {"type": "line", "strokeWidth": 2.2, "clip": true, "strokeCap": "butt"},
"encoding": {
"x": {"field": "h", "type": "quantitative", "scale": {"domain": [0, 120], "nice": false, "zero": false},
"axis": {"values": [0,3,6,9,12,15,18,21,24,27,30,33,36,39,42,45,48,51,54,57,60,63,66,69,72,75,78,81,84,87,90,93,96,99,102,105,108,111,114,117,120],
"labelExpr": "datum.value % 12 == 0 ? (17 + floor(datum.value / 24)) + '-01-16 ' + (datum.value % 24 == 0 ? '00:00' : '12:00') : ''",
"labelAngle": -60, "labelAlign": "right", "labelBaseline": "middle", "labelFontSize": 10, "labelColor": "black", "labelPadding": 3, "labelOverlap": false, "labelBound": false, "labelFlush": false,
"ticks": true, "tickColor": "black", "tickSize": 4, "tickOpacity": {"condition": {"test": "datum.value % 12 == 0", "value": 1}, "value": 0},
"grid": true, "gridColor": "#a0a0a0", "gridWidth": 1, "domain": false, "offset": -150.22,
"title": "tijd", "titleX": 319, "titleY": 166, "titleFontSize": 9, "titleFontWeight": "normal", "titleColor": "black", "titleAlign": "center", "titleBaseline": "top"}},
"y": {"field": "v", "type": "quantitative", "scale": {"domain": [-20, 25], "nice": false, "zero": false},
"axis": {"values": [-20,-15,-10,-5,0,5,10,15,20,25], "grid": true, "gridColor": "black", "gridWidth": 1, "domainColor": "#808080", "tickColor": "#808080", "tickSize": 4, "labelFontSize": 10, "labelColor": "black", "labelPadding": 2,
"title": "temperatuur [Celsius]; warmtestroomdichtheid [W/m2]; Qzon/20 [W/m2]", "titleFontSize": 8.5, "titleFontWeight": "normal", "titleColor": "black", "titleX": -47, "titleY": 183, "titleAlign": "center", "titleAngle": -90, "titleBaseline": "middle"}},
"color": {"field": "s", "type": "nominal",
"scale": {"domain": ["Tbu,gemeten","Tplen,gemeten","Tplat,gemeten","Qzon/20,zestienh","Tdak,bovenz, berekend","Tdak,bovenz, gemeten","Tdak,onderz, berekend","Tdak,onderz, gemeten","Qdak,onderz, berekend","Qdak,onderz, gemet met HUX","Qdak,onderz, gemet obv TEM"],
"range": ["#1414d2","#e8336b","#9a6ed6","#f5cd3b","#2c2cc0","#33b5ee","#6b7a3a","#44d644","#553f7a","#f0a830","#a01838"]},
"legend": {"orient": "none", "legendX": 668, "legendY": 96, "title": null, "symbolType": "stroke", "symbolSize": 64, "symbolStrokeWidth": 1.5, "labelFontSize": 8, "labelOffset": 2, "rowPadding": 0, "labelLimit": 300, "labelColor": "black"}},
"strokeDash": {"field": "s", "type": "nominal",
"scale": {"domain": ["Tbu,gemeten","Tplen,gemeten","Tplat,gemeten","Qzon/20,zestienh","Tdak,bovenz, berekend","Tdak,bovenz, gemeten","Tdak,onderz, berekend","Tdak,onderz, gemeten","Qdak,onderz, berekend","Qdak,onderz, gemet met HUX","Qdak,onderz, gemet obv TEM"],
"range": [[1,0],[1,0],[1,0],[1,0],[5,3],[4,3],[3,3],[3,3],[2,1],[2,1],[2,1]]},
"legend": {"orient": "none", "legendX": 668, "legendY": 96, "title": null, "symbolType": "stroke", "symbolSize": 64, "symbolStrokeWidth": 1.5, "labelFontSize": 8, "labelOffset": 2, "rowPadding": 0, "labelLimit": 300, "labelColor": "black"}}
}
}
